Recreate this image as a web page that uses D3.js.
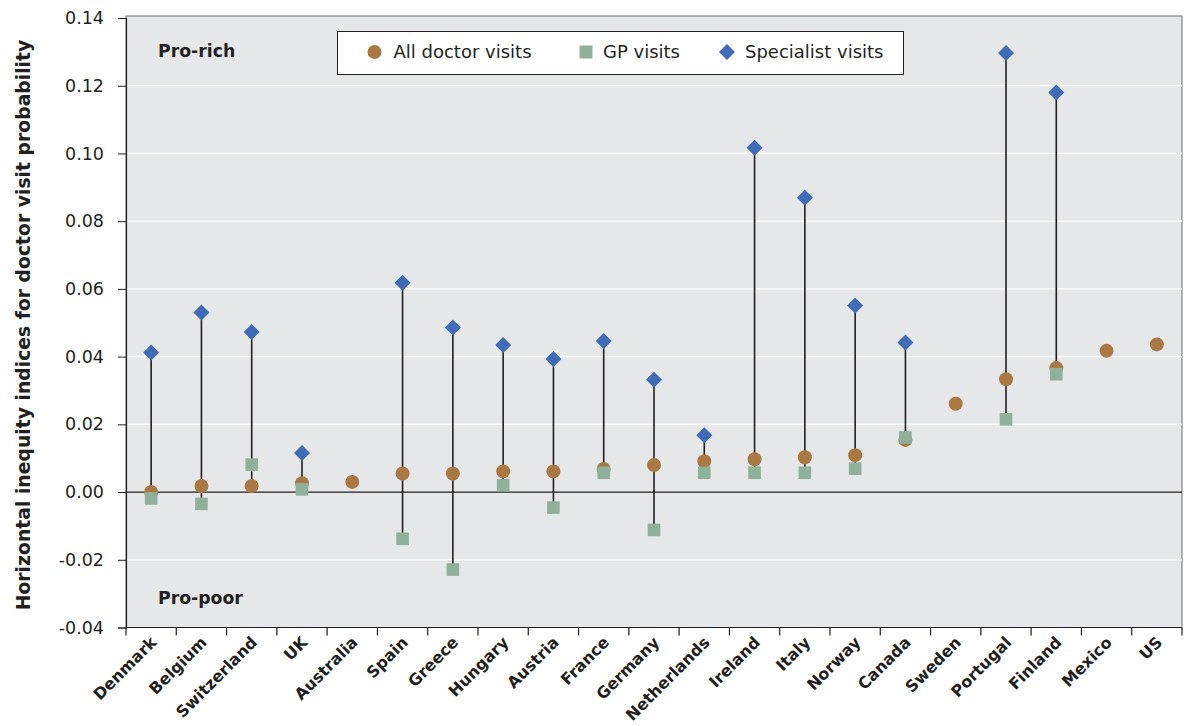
<!DOCTYPE html>
<html><head><meta charset="utf-8">
<script src="https://cdn.jsdelivr.net/npm/d3@7"></script>
<style>body{margin:0;background:#fff}svg{display:block}text{font-family:"DejaVu Sans",sans-serif;fill:#231f20}</style>
</head><body><svg id="c" width="1186" height="726"></svg>
<script>
const countries = ["Denmark","Belgium","Switzerland","UK","Australia","Spain","Greece","Hungary","Austria","France","Germany","Netherlands","Ireland","Italy","Norway","Canada","Sweden","Portugal","Finland","Mexico","US"];
const allVisits = [0.0000,0.0018,0.0018,0.0026,0.0030,0.0055,0.0055,0.0061,0.0061,0.0068,0.0080,0.0091,0.0097,0.0103,0.0109,0.0154,0.0261,0.0333,0.0366,0.0417,0.0436];
const gpVisits = [-0.0019,-0.0035,0.0081,0.0008,null,-0.0138,-0.0229,0.0020,-0.0046,0.0057,-0.0112,0.0057,0.0057,0.0057,0.0069,0.0161,null,0.0215,0.0348,null,null];
const specVisits = [0.0412,0.0530,0.0473,0.0115,null,0.0618,0.0486,0.0434,0.0393,0.0446,0.0332,0.0168,0.1017,0.0869,0.0551,0.0442,null,0.1297,0.1180,null,null];
const yTicks = [-0.04,-0.02,0,0.02,0.04,0.06,0.08,0.10,0.12,0.14];
const seriesNames = ["All doctor visits","GP visits","Specialist visits"];

const svg = d3.select("#c");
const L=126,R=1182,T=18,B=627.5;
const x = d3.scaleBand().domain(countries).range([L,R]).padding(0);
const y = d3.scaleLinear().domain([-0.04,0.14]).range([B,T]);
const cCol="#a97843", gCol="#8fb19b", sCol="#3f6bb9";

svg.append("rect").attr("x",L).attr("y",16).attr("width",R-L).attr("height",B-16).attr("fill","#e6e7e9").attr("stroke","#6d6e70").attr("stroke-width",1);
svg.append("g").selectAll("line").data(yTicks.filter(d=>d!==0&&d!==0.14&&d!==-0.04)).join("line")
  .attr("x1",L).attr("x2",R).attr("y1",d=>y(d)).attr("y2",d=>y(d)).attr("stroke","#fff").attr("stroke-width",1.3);
svg.append("line").attr("x1",L).attr("x2",R).attr("y1",y(0)).attr("y2",y(0)).attr("stroke","#231f20").attr("stroke-width",1.2);

// y axis
const ya = svg.append("g").attr("transform",`translate(${L},0)`).call(d3.axisLeft(y).tickValues(yTicks).tickSize(8).tickPadding(14).tickFormat(d=>d3.format(".2f")(d).replace("−","-")));
ya.select(".domain").attr("stroke","#231f20").attr("stroke-width",1.2);
ya.selectAll(".tick line").attr("stroke","#231f20");
ya.selectAll("text").style("font-size","17.5px").attr("fill","#231f20");

// x axis
const xa = svg.append("g").attr("transform",`translate(0,${B})`);
xa.append("line").attr("x1",L).attr("x2",R).attr("stroke","#231f20").attr("stroke-width",1.2);
const bounds = countries.map(c=>x(c)).concat([R]);
xa.selectAll("line.t").data(bounds).join("line").attr("class","t").attr("x1",d=>d).attr("x2",d=>d).attr("y1",0).attr("y2",8).attr("stroke","#231f20").attr("stroke-width",1.2);
xa.selectAll("text").data(countries).join("text")
  .attr("transform",c=>`translate(${x(c)+x.bandwidth()/2-1.5},8) rotate(-45)`)
  .attr("text-anchor","end").attr("dy","0.7em").style("font-size","16px").style("font-weight","bold").text(c=>c);

// y title
svg.append("text").attr("transform",`translate(30,325) rotate(-90)`).attr("text-anchor","middle")
  .style("font-size","18.8px").style("font-weight","bold").text("Horizontal inequity indices for doctor visit probability");

svg.append("text").attr("x",158).attr("y",57).style("font-size","17.3px").style("font-weight","bold").text("Pro-rich");
svg.append("text").attr("x",158).attr("y",604).style("font-size","17.3px").style("font-weight","bold").text("Pro-poor");

// stems
const cx = c=>x(c)+x.bandwidth()/2;
const rows = countries.map((c,i)=>({c,a:allVisits[i],g:gpVisits[i],s:specVisits[i]}));
svg.append("g").selectAll("line").data(rows.filter(r=>r.s!==null||r.g!==null)).join("line")
  .attr("x1",r=>cx(r.c)).attr("x2",r=>cx(r.c))
  .attr("y1",r=>y(d3.max([r.a,r.g,r.s].filter(v=>v!==null))))
  .attr("y2",r=>y(d3.min([r.a,r.g,r.s].filter(v=>v!==null))))
  .attr("stroke","#231f20").attr("stroke-width",1.6);
svg.append("g").selectAll("circle").data(rows).join("circle").attr("cx",r=>cx(r.c)).attr("cy",r=>y(r.a)).attr("r",7).attr("fill",cCol);
svg.append("g").selectAll("rect").data(rows.filter(r=>r.g!==null)).join("rect").attr("x",r=>cx(r.c)-6.3).attr("y",r=>y(r.g)-6.3).attr("width",12.6).attr("height",12.6).attr("fill",gCol);
svg.append("g").selectAll("path").data(rows.filter(r=>r.s!==null)).join("path")
  .attr("d",r=>{const X=cx(r.c),Y=y(r.s);return `M${X},${Y-8}L${X+8},${Y}L${X},${Y+8}L${X-8},${Y}Z`;}).attr("fill",sCol);

// legend
const lg = svg.append("g");
lg.append("rect").attr("x",337.5).attr("y",31.5).attr("width",566).attr("height",43).attr("fill","#fff").attr("stroke","#231f20").attr("stroke-width",1);
lg.append("circle").attr("cx",374.5).attr("cy",52).attr("r",7).attr("fill",cCol);
lg.append("rect").attr("x",579.5).attr("y",45.5).attr("width",13).attr("height",13).attr("fill",gCol);
lg.append("path").attr("d","M727,44L735,52L727,60L719,52Z").attr("fill",sCol);
const lx=[393.5,603,745];
lg.selectAll("text").data(seriesNames).join("text").attr("x",(d,i)=>lx[i]).attr("y",52).attr("dy","0.35em").style("font-size","18px").text(d=>d);
</script></body></html>
